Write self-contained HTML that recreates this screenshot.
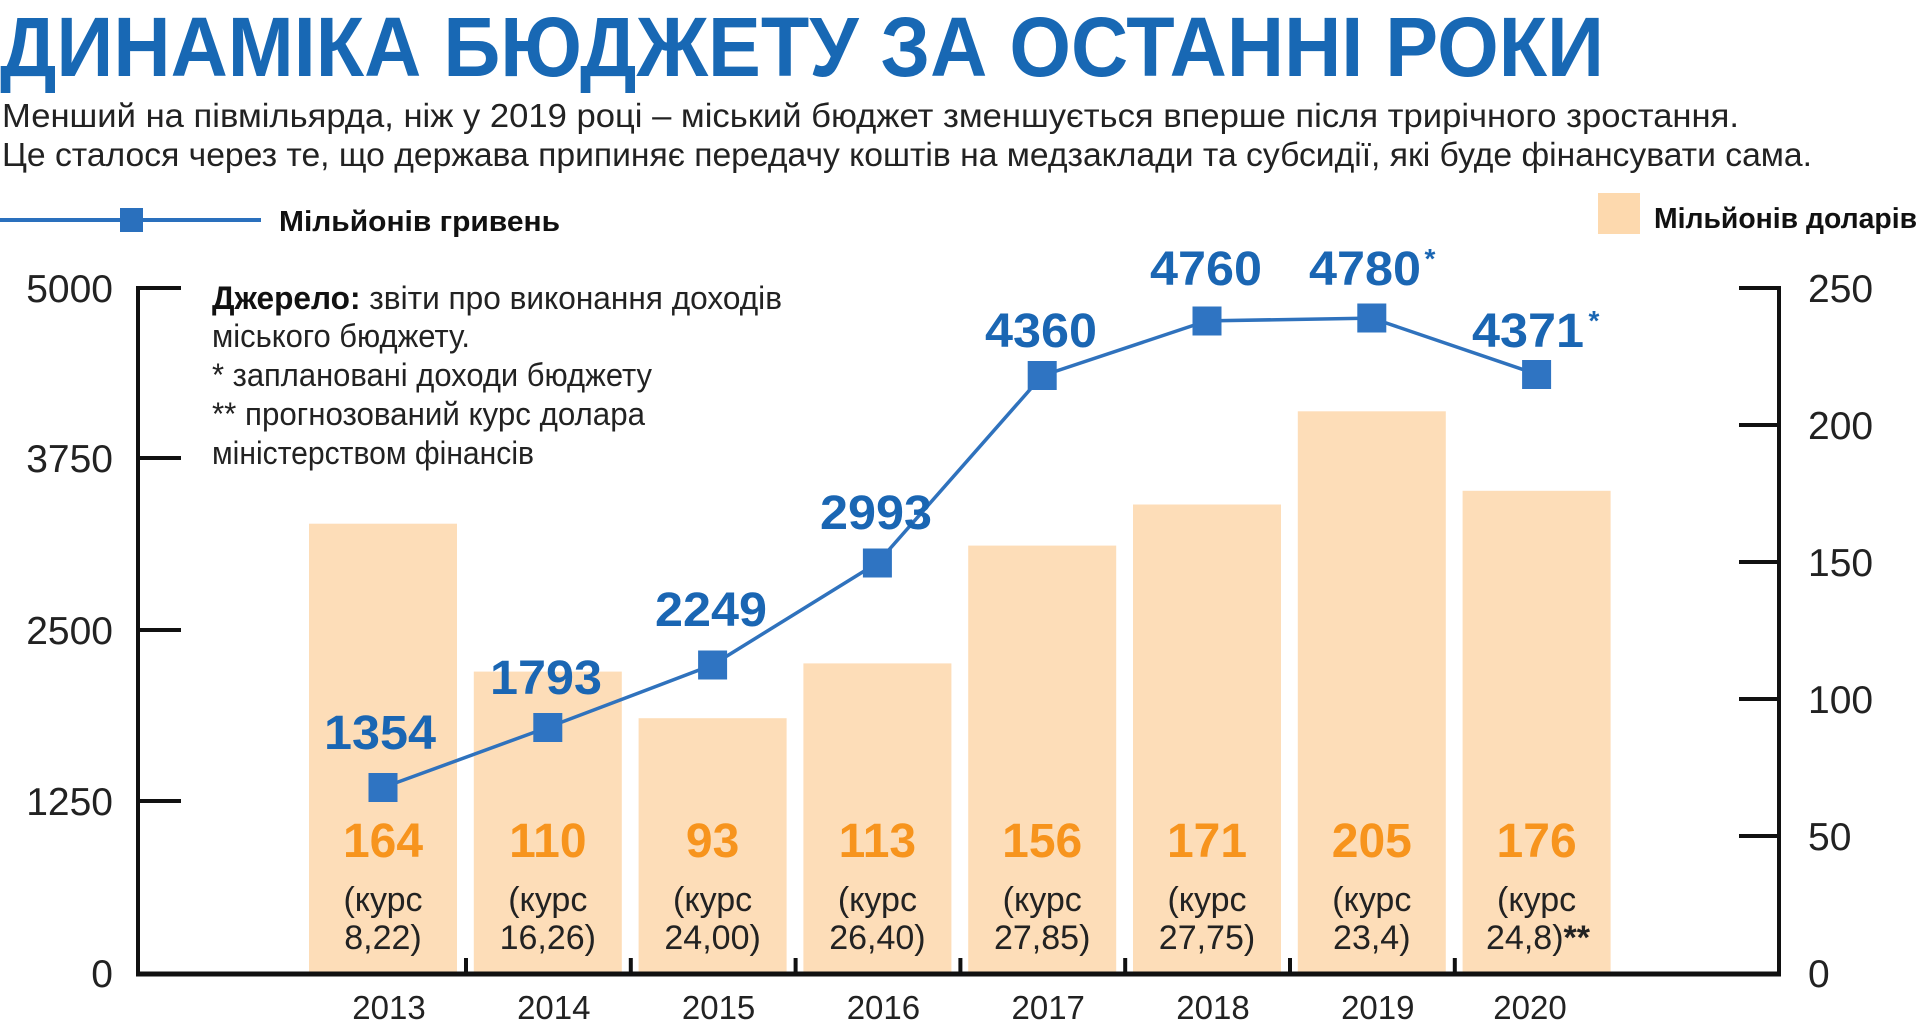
<!DOCTYPE html>
<html><head><meta charset="utf-8"><style>
html,body{margin:0;padding:0;background:#fff;}
svg{display:block;}
text{font-family:"Liberation Sans Narrow","Liberation Sans",sans-serif;}
</style></head><body>
<svg width="1920" height="1033" viewBox="0 0 1920 1033" xmlns="http://www.w3.org/2000/svg">
<text x="0" y="76" font-size="84" font-weight="bold" fill="#1868b4" textLength="1604" lengthAdjust="spacingAndGlyphs">ДИНАМІКА БЮДЖЕТУ ЗА ОСТАННІ РОКИ</text>
<text x="2" y="127" font-size="33" fill="#222" textLength="1737" lengthAdjust="spacingAndGlyphs">Менший на півмільярда, ніж у 2019 році – міський бюджет зменшується вперше після трирічного зростання.</text>
<text x="2" y="166" font-size="33" fill="#222" textLength="1810" lengthAdjust="spacingAndGlyphs">Це сталося через те, що держава припиняє передачу коштів на медзаклади та субсидії, які буде фінансувати сама.</text>
<!-- legends -->
<line x1="0" y1="220" x2="261" y2="220" stroke="#2a70bd" stroke-width="4"/>
<rect x="120" y="208" width="23" height="24" fill="#2a70bd"/>
<text x="279" y="231" font-size="29" font-weight="bold" fill="#111" textLength="281" lengthAdjust="spacingAndGlyphs">Мільйонів гривень</text>
<rect x="1598" y="193" width="42" height="41" fill="#fdd9ae"/>
<text x="1654" y="228" font-size="29" font-weight="bold" fill="#111" textLength="263" lengthAdjust="spacingAndGlyphs">Мільйонів доларів</text>
<!-- bars -->
<g fill="#fdddb8">
<rect x="309" y="523.7" width="148" height="449.3"/>
<rect x="473.8" y="671.6" width="148" height="301.4"/>
<rect x="638.6" y="718.2" width="148" height="254.8"/>
<rect x="803.4" y="663.4" width="148" height="309.6"/>
<rect x="968.2" y="545.6" width="148" height="427.4"/>
<rect x="1133" y="504.5" width="148" height="468.5"/>
<rect x="1297.8" y="411.3" width="148" height="561.7"/>
<rect x="1462.6" y="490.8" width="148" height="482.2"/>
</g>
<!-- axes -->
<g stroke="#111" stroke-width="4" fill="none">
<polyline points="181,288 138,288 138,975"/>
<line x1="138" y1="458" x2="181" y2="458"/>
<line x1="138" y1="630" x2="181" y2="630"/>
<line x1="138" y1="801" x2="181" y2="801"/>
<polyline points="1739,288 1779,288 1779,975"/>
<line x1="1739" y1="425" x2="1779" y2="425"/>
<line x1="1739" y1="562" x2="1779" y2="562"/>
<line x1="1739" y1="699" x2="1779" y2="699"/>
<line x1="1739" y1="836" x2="1779" y2="836"/>
<line x1="136" y1="974" x2="1781" y2="974" stroke-width="5"/>
<line x1="466" y1="958" x2="466" y2="974"/>
<line x1="630.8" y1="958" x2="630.8" y2="974"/>
<line x1="795.6" y1="958" x2="795.6" y2="974"/>
<line x1="960.4" y1="958" x2="960.4" y2="974"/>
<line x1="1125.2" y1="958" x2="1125.2" y2="974"/>
<line x1="1290" y1="958" x2="1290" y2="974"/>
<line x1="1454.8" y1="958" x2="1454.8" y2="974"/>
</g>
<g font-size="39" fill="#222" text-anchor="end">
<text x="113" y="302">5000</text>
<text x="113" y="472">3750</text>
<text x="113" y="644">2500</text>
<text x="113" y="815">1250</text>
<text x="113" y="987">0</text>
</g>
<g font-size="39" fill="#222">
<text x="1808" y="302">250</text>
<text x="1808" y="439">200</text>
<text x="1808" y="576">150</text>
<text x="1808" y="713">100</text>
<text x="1808" y="850">50</text>
<text x="1808" y="987">0</text>
</g>
<!-- source -->
<g font-size="32" fill="#222">
<text x="212" y="309" textLength="570" lengthAdjust="spacingAndGlyphs"><tspan font-weight="bold" fill="#111">Джерело:</tspan> звіти про виконання доходів</text>
<text x="212" y="347" textLength="258" lengthAdjust="spacingAndGlyphs">міського бюджету.</text>
<text x="212" y="386" textLength="440" lengthAdjust="spacingAndGlyphs">* заплановані доходи бюджету</text>
<text x="212" y="425" textLength="433" lengthAdjust="spacingAndGlyphs">** прогнозований курс долара</text>
<text x="212" y="464" textLength="322" lengthAdjust="spacingAndGlyphs">міністерством фінансів</text>
</g>
<!-- line -->
<polyline points="383,787.5 547.8,727.4 712.6,664.9 877.4,562.9 1042.2,375.7 1207,320.9 1371.8,318.1 1536.6,374.2" fill="none" stroke="#2f72bd" stroke-width="3.5"/>
<g fill="#2f74c2">
<rect x="368.5" y="773" width="29" height="29"/>
<rect x="533.3" y="713" width="29" height="29"/>
<rect x="698.1" y="650.5" width="29" height="29"/>
<rect x="862.9" y="548.5" width="29" height="29"/>
<rect x="1027.7" y="361" width="29" height="29"/>
<rect x="1192.5" y="306.5" width="29" height="29"/>
<rect x="1357.3" y="303.5" width="29" height="29"/>
<rect x="1522.1" y="360" width="29" height="29"/>
</g>
<g font-size="48" font-weight="bold" fill="#1a66b3" text-anchor="middle" font-family="Liberation Sans, sans-serif">
<text x="380" y="749" textLength="112" lengthAdjust="spacingAndGlyphs">1354</text>
<text x="546" y="694" textLength="112" lengthAdjust="spacingAndGlyphs">1793</text>
<text x="711" y="626" textLength="112" lengthAdjust="spacingAndGlyphs">2249</text>
<text x="876" y="529" textLength="112" lengthAdjust="spacingAndGlyphs">2993</text>
<text x="1041" y="347" textLength="112" lengthAdjust="spacingAndGlyphs">4360</text>
<text x="1206" y="285" textLength="112" lengthAdjust="spacingAndGlyphs">4760</text>
<text x="1365" y="285" textLength="112" lengthAdjust="spacingAndGlyphs">4780</text>
<text x="1528" y="347" textLength="112" lengthAdjust="spacingAndGlyphs">4371</text>
<text x="1430" y="268" font-size="28">*</text>
<text x="1594" y="330" font-size="28">*</text>
</g>
<g font-size="48" font-weight="bold" fill="#f7941d" text-anchor="middle">
<text x="383" y="857">164</text>
<text x="547.8" y="857">110</text>
<text x="712.6" y="857">93</text>
<text x="877.4" y="857">113</text>
<text x="1042.2" y="857">156</text>
<text x="1207" y="857">171</text>
<text x="1371.8" y="857">205</text>
<text x="1536.6" y="857">176</text>
</g>
<g font-size="34" fill="#222" text-anchor="middle">
<text x="383" y="911">(курс</text><text x="383" y="949">8,22)</text>
<text x="547.8" y="911">(курс</text><text x="547.8" y="949">16,26)</text>
<text x="712.6" y="911">(курс</text><text x="712.6" y="949">24,00)</text>
<text x="877.4" y="911">(курс</text><text x="877.4" y="949">26,40)</text>
<text x="1042.2" y="911">(курс</text><text x="1042.2" y="949">27,85)</text>
<text x="1207" y="911">(курс</text><text x="1207" y="949">27,75)</text>
<text x="1371.8" y="911">(курс</text><text x="1371.8" y="949">23,4)</text>
<text x="1536.6" y="911">(курс</text><text x="1538" y="949">24,8)<tspan font-weight="bold">**</tspan></text>
</g>
<g font-size="33" fill="#222" text-anchor="middle">
<text x="389" y="1019">2013</text>
<text x="553.8" y="1019">2014</text>
<text x="718.6" y="1019">2015</text>
<text x="883.4" y="1019">2016</text>
<text x="1048.2" y="1019">2017</text>
<text x="1213" y="1019">2018</text>
<text x="1377.8" y="1019">2019</text>
<text x="1530" y="1019">2020</text>
</g>
</svg>
</body></html>
